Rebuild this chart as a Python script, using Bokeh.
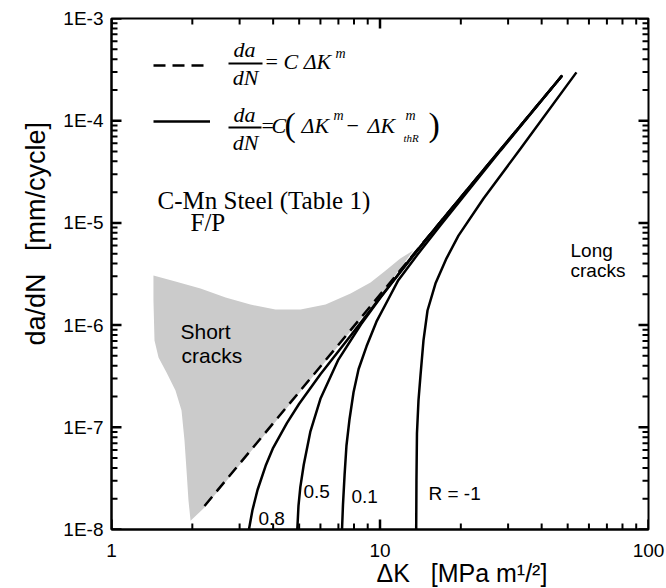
import math

from bokeh.plotting import figure
from bokeh.models import (Range1d, FixedTicker, CustomJSTickFormatter,
                          Label, BoxAnnotation, Legend, LegendItem, Title)
from bokeh.embed import file_html
from bokeh.resources import INLINE

# ---------------------------------------------------------------- data
# Paris law  da/dN = C dK^m
paris_dk = [2.22, 47.7]
paris_rate = [1.7e-8, 2.77e-4]

# threshold-corrected law, one curve per load ratio R
r08_dk = [3.25, 3.35, 3.5, 3.75, 4.0, 4.5, 5.0, 6.0, 7.5, 10.0, 15.0, 25.0, 47.7]
r08_rate = [1.0e-8, 1.55e-8, 2.45e-8, 4.2e-8, 6.3e-8, 1.1e-7, 1.7e-7, 3.3e-7,
            7.0e-7, 1.85e-6, 7.1e-6, 3.6e-5, 2.77e-4]

r05_dk = [4.92, 4.97, 5.05, 5.2, 5.5, 6.0, 7.0, 8.5, 10.0, 13.0, 18.0, 28.0, 47.7]
r05_rate = [1.0e-8, 1.7e-8, 2.6e-8, 4.3e-8, 9.0e-8, 1.9e-7, 4.6e-7, 1.02e-6,
            1.83e-6, 4.5e-6, 1.28e-5, 5.15e-5, 2.77e-4]

r01_dk = [7.22, 7.28, 7.38, 7.50, 7.70, 7.97, 8.32, 8.91, 9.70, 10.7, 11.7, 13.8,
          16.8, 28.1, 47.7]
r01_rate = [1.0e-8, 1.75e-8, 3.4e-8, 6.6e-8, 1.2e-7, 2.2e-7, 3.7e-7, 6.2e-7,
            1.08e-6, 1.76e-6, 2.75e-6, 4.9e-6, 9.5e-6, 5.1e-5, 2.77e-4]

rm1_dk = [13.64, 13.67, 13.73, 13.91, 14.15, 14.52, 15.03, 16.09, 17.69, 19.6,
          24.3, 33.4, 53.9]
rm1_rate = [1.0e-8, 3.0e-8, 8.7e-8, 1.83e-7, 3.2e-7, 7.1e-7, 1.39e-6, 2.55e-6,
            4.5e-6, 7.5e-6, 1.73e-5, 5.35e-5, 2.97e-4]

# scatter band of short-crack data
short_dk = [1.433, 1.731, 2.145, 2.66, 3.29, 4.08, 5.06, 6.27, 7.77, 9.22, 10.5,
            11.9, 13.3, 10.04, 5.06, 2.22, 1.97, 1.935, 1.903, 1.87, 1.823,
            1.731, 1.603, 1.497, 1.446, 1.433]
short_rate = [3.05e-6, 2.67e-6, 2.28e-6, 1.86e-6, 1.59e-6, 1.42e-6, 1.42e-6,
              1.59e-6, 2.04e-6, 2.61e-6, 3.42e-6, 4.49e-6, 5.37e-6, 1.95e-6,
              2.24e-7, 1.64e-8, 1.22e-8, 1.92e-8, 3.78e-8, 7.43e-8, 1.46e-7,
              2.29e-7, 3.44e-7, 4.82e-7, 7.06e-7, 1.74e-6]

# axes
x_lo, x_hi = 1, 100
y_lo, y_hi = 1e-8, 1e-3
x_ticks = [1, 10, 100]
x_tick_labels = ["1", "10", "100"]
y_ticks = [1e-8, 1e-7, 1e-6, 1e-5, 1e-4, 1e-3]
y_tick_labels = ["1E-8", "1E-7", "1E-6", "1E-5", "1E-4", "1E-3"]
x_minor = [k * 10.0 ** e for e in (0, 1) for k in range(2, 10)]
y_minor = [k * 10.0 ** e for e in range(-8, -3) for k in range(2, 10)]

# ---------------------------------------------------------------- layout
W, H = 666, 588
FL, FR, FT, FB = 111, 648, 18, 529   # frame edges in canvas pixels

SERIF = "Liberation Serif"
SANS = "Liberation Sans"
NBSP = "\u00a0"
NAN = float("nan")

p = figure(width=W, height=H, x_axis_type="log", y_axis_type="log",
           x_range=Range1d(x_lo, x_hi), y_range=Range1d(y_lo, y_hi),
           output_backend="svg", toolbar_location=None,
           min_border_left=FL, min_border_right=W - FR,
           min_border_top=FT, min_border_bottom=H - FB)
p.grid.visible = False
p.outline_line_color = "black"
p.outline_line_width = 2
p.background_fill_color = None
p.border_fill_color = "white"


def label_formatter(tvals, tlabels):
    return CustomJSTickFormatter(args=dict(tvals=tvals, tlabels=tlabels), code="""
        let best = 0, bd = Infinity;
        for (let i = 0; i < tvals.length; i++) {
            const d = Math.abs(Math.log10(tick) - Math.log10(tvals[i]));
            if (d < bd) { bd = d; best = i; }
        }
        return tlabels[best];
    """)


for ax, ticks, labels, standoff in ((p.xaxis[0], x_ticks, x_tick_labels, 14),
                                    (p.yaxis[0], y_ticks, y_tick_labels, 8)):
    ax.ticker = FixedTicker(ticks=ticks, minor_ticks=[])
    ax.formatter = label_formatter(ticks, labels)
    ax.axis_line_width = 2
    ax.axis_line_color = "black"
    ax.major_tick_in = 0
    ax.major_tick_out = 0
    ax.minor_tick_in = 0
    ax.minor_tick_out = 0
    ax.major_label_standoff = standoff
    ax.major_label_text_font = SANS
    ax.major_label_text_font_size = "19px"
    ax.major_label_text_color = "black"

# axis titles
p.add_layout(Title(text=f"\u0394K{NBSP * 3}[MPa m\u00b9/\u00b2]", align="left",
                   offset=265, standoff=-6, text_font=SANS,
                   text_font_size="25px", text_font_style="normal",
                   text_color="black"), "below")
p.add_layout(Title(text=f"da/dN{NBSP * 3}[mm/cycle]", align="left", offset=184,
                   standoff=20, text_font=SANS, text_font_size="27px",
                   text_font_style="normal", text_color="black"), "left")

# inward tick marks on all four edges; a tick length in pixels becomes a
# multiplicative step on the log scales.  Each set is one broken polyline.
px_per_dec_x = (FR - FL) / math.log10(x_hi / x_lo)
px_per_dec_y = (FB - FT) / math.log10(y_hi / y_lo)


def x_edge_ticks(vals, length, width):
    s = 10 ** (length / px_per_dec_y)
    xs, ys = [], []
    for v in vals:
        xs += [v, v, NAN, v, v, NAN]
        ys += [y_lo, y_lo * s, NAN, y_hi, y_hi / s, NAN]
    p.line(xs, ys, line_color="black", line_width=width)


def y_edge_ticks(vals, length, width):
    s = 10 ** (length / px_per_dec_x)
    xs, ys = [], []
    for v in vals:
        xs += [x_lo, x_lo * s, NAN, x_hi, x_hi / s, NAN]
        ys += [v, v, NAN, v, v, NAN]
    p.line(xs, ys, line_color="black", line_width=width)


x_edge_ticks(x_ticks, 10, 2.5)
x_edge_ticks(x_minor, 6, 2)
y_edge_ticks(y_ticks, 10, 2.5)
y_edge_ticks(y_minor, 6, 2)

# ---------------------------------------------------------------- marks
p.patch(short_dk, short_rate, fill_color="#cbcbcb", line_color=None)

dash_r = p.line(paris_dk, paris_rate, line_color="black", line_width=2.5,
                line_dash="12 7")
solid_kw = dict(line_color="black", line_width=2.5)
r08 = p.line(r08_dk, r08_rate, **solid_kw)
p.line(r05_dk, r05_rate, **solid_kw)
p.line(r01_dk, r01_rate, **solid_kw)
p.line(rm1_dk, rm1_rate, **solid_kw)

legend = Legend(items=[LegendItem(label=" ", renderers=[dash_r]),
                       LegendItem(label=" ", renderers=[r08])],
                location=(153 - FL, FB - 131), glyph_width=57, glyph_height=20,
                label_height=20, label_width=1, label_standoff=0,
                label_text_font_size="1px", spacing=36, padding=0, margin=0,
                background_fill_alpha=0, border_line_alpha=0)
p.add_layout(legend)


# ---------------------------------------------------------------- texts
def txt(text, px, py, size, font=SANS, style="normal", align="left"):
    # py is the text baseline in canvas pixels; labels are anchored at mid-height
    p.add_layout(Label(x=px - FL, y=FB - (py - 0.35 * size), x_units="screen",
                       y_units="screen", text=text, text_font=font,
                       text_font_size=f"{size}px", text_font_style=style,
                       text_align=align, text_baseline="middle",
                       text_color="black"))


def bar(x0, x1, py):
    p.add_layout(BoxAnnotation(left=x0 - FL, right=x1 - FL, top=FB - py + 1,
                               bottom=FB - py - 1, left_units="screen",
                               right_units="screen", top_units="screen",
                               bottom_units="screen", fill_color="black",
                               fill_alpha=1, line_color=None))


# da/dN = C dK^m
txt("da", 244, 57, 22, SERIF, "italic", "center")
bar(228, 262, 63)
txt("dN", 245, 85, 22, SERIF, "italic", "center")
txt("=", 265, 69, 22, SERIF)
txt("C \u0394K", 283, 69, 22, SERIF, "italic")
txt("m", 335, 58, 14, SERIF, "italic")

# da/dN = C (dK^m - dK_thR^m)
txt("da", 244, 122, 22, SERIF, "italic", "center")
bar(228, 261, 127)
txt("dN", 245, 150, 22, SERIF, "italic", "center")
txt("=", 261, 133, 22, SERIF)
txt("C", 271, 133, 22, SERIF, "italic")
txt("(", 284, 136, 34, SERIF)
txt("\u0394K", 301, 133, 22, SERIF, "italic")
txt("m", 333, 120, 14, SERIF, "italic")
txt("\u2212", 346, 133, 22, SERIF)
txt("\u0394K", 367, 133, 22, SERIF, "italic")
txt("m", 405, 120, 14, SERIF, "italic")
txt("thR", 403, 141, 11, SERIF, "italic")
txt(")", 428, 136, 34, SERIF)

txt("C-Mn Steel (Table 1)", 157, 209, 25, SERIF)
txt("F/P", 190, 231, 25, SERIF)

txt("Short", 180, 338, 21)
txt("cracks", 181, 362, 21)
txt("Long", 570, 257, 19)
txt("cracks", 570, 277, 19)

txt("0.8", 258, 525, 19)
txt("0.5", 303, 498, 19)
txt("0.1", 351, 503, 19)
txt("R = -1", 428, 500, 19)

open("out.html", "w").write(file_html(p, INLINE))
